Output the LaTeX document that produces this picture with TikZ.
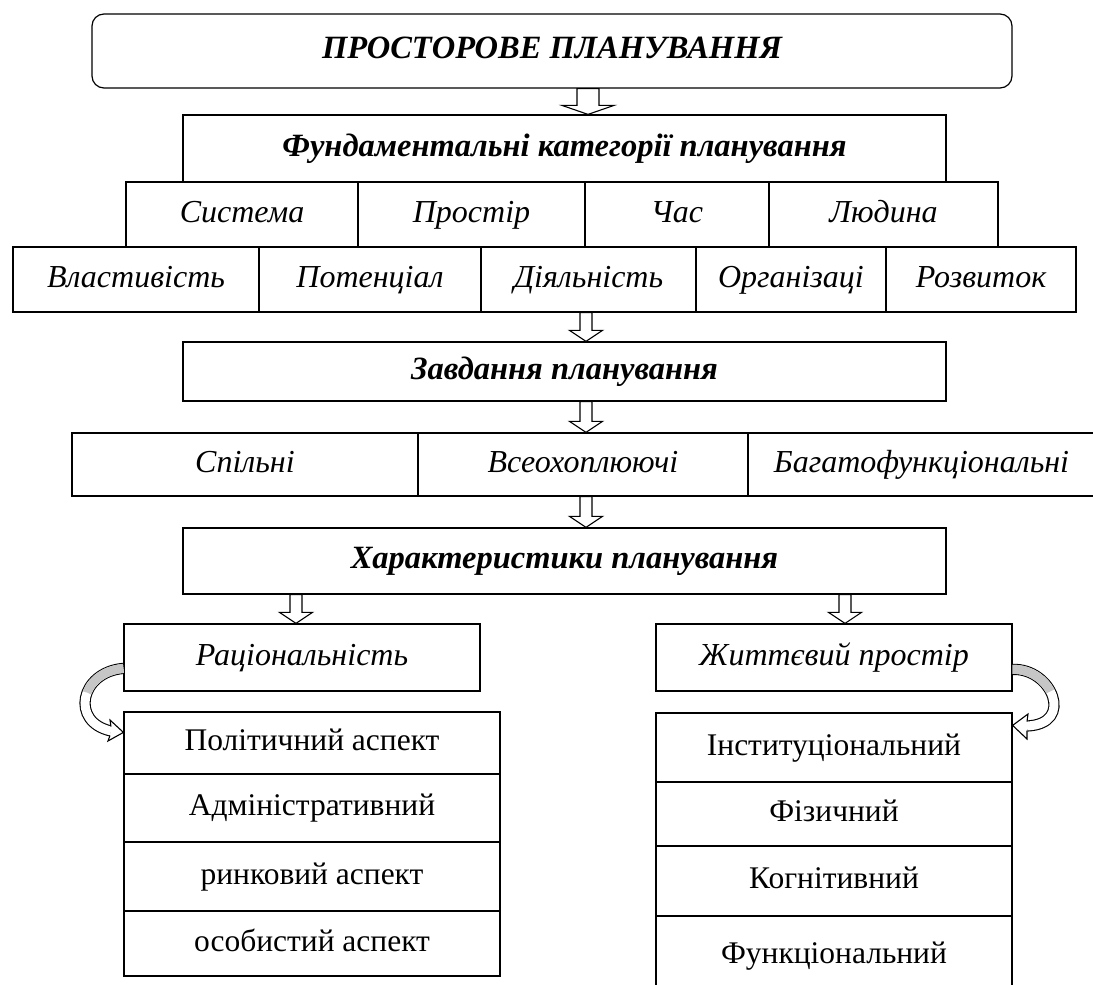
\documentclass[tikz,border=0pt]{standalone}
\usepackage{fontspec}
\setmainfont{Liberation Serif}
\usetikzlibrary{calc}
\newcommand\cellbox[7]{\node[#1, minimum width={(#5-#3)*1pt}, minimum height={(#6-#4)*1pt}] (#2) at ({(#3+#5)/2},{(#4+#6)/2}) {#7};}
% #1 start, #2 end, #3 half shaft width, #4 half head width, #5 head length
\newcommand\blockarrowgen[5]{%
  \draw[barrow] let \p1=(#1), \p2=(#2) in
    (\x1-#3,\y1) -- (\x1+#3,\y1) -- (\x1+#3,\y2+#5) -- (\x1+#4,\y2+#5) -- (\x1,\y2)
    -- (\x1-#4,\y2+#5) -- (\x1-#3,\y2+#5) -- cycle;}
\newcommand\blockarrow[2]{\blockarrowgen{#1}{#2}{6}{16.5}{11}}
\begin{document}
\begin{tikzpicture}[x=1pt,y=-1pt,
  base/.style={draw, line width=1.2pt, inner sep=0pt, text height=21pt, text depth=6pt},
  cell/.style={base, font=\itshape\fontsize{32}{36}\selectfont},
  head/.style={base, font=\bfseries\itshape\fontsize{32.5}{36}\selectfont},
  plain/.style={base, font=\fontsize{31.5}{34}\selectfont},
  barrow/.style={draw, line width=1.1pt, fill=white},
  band/.style={line width=1.1pt, double=white, double distance=9pt},
  bandgray/.style={line width=9pt, gray!45, dash pattern=on 46pt off 2000pt}]
\useasboundingbox (0,0) rectangle (1093,985);
% top
\cellbox{head, rounded corners=12pt}{top}{92}{14}{1012}{88}{ПРОСТОРОВЕ ПЛАНУВАННЯ}
\cellbox{head}{fund}{183}{115}{946}{182}{Фундаментальні категорії планування}
% row 2
\cellbox{cell}{sys}{126}{182}{358}{247}{Система}
\cellbox{cell}{pros}{358}{182}{585}{247}{Простір}
\cellbox{cell}{chas}{585}{182}{769}{247}{Час}
\cellbox{cell}{lud}{769}{182}{998}{247}{Людина}
% row 3
\cellbox{cell}{vlas}{13}{247}{259}{312}{Властивість}
\cellbox{cell}{pot}{259}{247}{481}{312}{Потенціал}
\cellbox{cell}{diy}{481}{247}{696}{312}{Діяльність}
\cellbox{cell}{org}{696}{247}{886}{312}{Організаці}
\cellbox{cell}{rozv}{886}{247}{1076}{312}{Розвиток}
% zavdannia
\cellbox{head}{zavd}{183}{342}{946}{401}{Завдання планування}
\cellbox{cell}{spil}{72}{433}{418}{496}{Спільні}
\cellbox{cell}{vseo}{418}{433}{748}{496}{Всеохоплюючі}
\cellbox{cell}{baga}{748}{433}{1095}{496}{Багатофункціональні}
% characteristics
\cellbox{head}{char}{183}{528}{946}{594}{Характеристики планування}
\cellbox{cell}{rac}{124}{624}{480}{691}{Раціональність}
\cellbox{cell}{zhyt}{656}{624}{1012}{691}{Життєвий простір}
% left list
\cellbox{plain}{pol}{124}{712}{500}{774}{Політичний аспект}
\cellbox{plain}{adm}{124}{774}{500}{842}{Адміністративний}
\cellbox{plain}{rynk}{124}{842}{500}{911}{ринковий аспект}
\cellbox{plain}{osob}{124}{911}{500}{976}{особистий аспект}
% right list
\cellbox{plain}{inst}{656}{713}{1012}{782}{Інституціональний}
\cellbox{plain}{fiz}{656}{782}{1012}{846}{Фізичний}
\cellbox{plain}{kogn}{656}{846}{1012}{916}{Когнітивний}
\cellbox{plain}{func}{656}{916}{1012}{996}{Функціональний}
% block arrows
\blockarrowgen{[xshift=36pt]top.south}{[xshift=36pt]top.south |- fund.north}{11}{26}{9}
\blockarrow{[xshift=-2.5pt]diy.south}{[xshift=-2.5pt]diy.south |- zavd.north}
\blockarrow{[xshift=21.5pt]zavd.south}{[xshift=21.5pt]zavd.south |- vseo.north}
\blockarrow{[xshift=3pt]vseo.south}{[xshift=3pt]vseo.south |- char.north}
\blockarrow{[xshift=-6pt]rac.north |- char.south}{[xshift=-6pt]rac.north}
\blockarrow{[xshift=11pt]zhyt.north |- char.south}{[xshift=11pt]zhyt.north}
% curved arrow, left
\draw[band] ([yshift=-45pt]rac.north west) .. controls (80,672) and (70,722) .. (111,731);
\draw[bandgray] ([yshift=-45pt]rac.north west) .. controls (80,672) and (70,722) .. (111,731);
\fill[white] (111,726) -- (110,720) -- ([yshift=-21pt]pol.north west) -- (108,741) -- (110,736) -- cycle;
\draw[line width=1.1pt, line join=miter] (111,726.5) -- (110,720) -- ([yshift=-21pt]pol.north west) -- (108,741) -- (110,735.5);
% curved arrow, right
\draw[band] ([yshift=-46pt]zhyt.north east) .. controls (1052,668) and (1075,724) .. (1027,726);
\draw[bandgray] ([yshift=-46pt]zhyt.north east) .. controls (1052,668) and (1075,724) .. (1027,726);
\fill[white] (1027,721) -- (1028,714) -- ([yshift=-13pt]inst.north east) -- (1027,739) -- (1027,731) -- cycle;
\draw[line width=1.1pt, line join=miter] (1027,721.5) -- (1028,714) -- ([yshift=-13pt]inst.north east) -- (1027,739) -- (1027,730.5);
\end{tikzpicture}
\end{document}
